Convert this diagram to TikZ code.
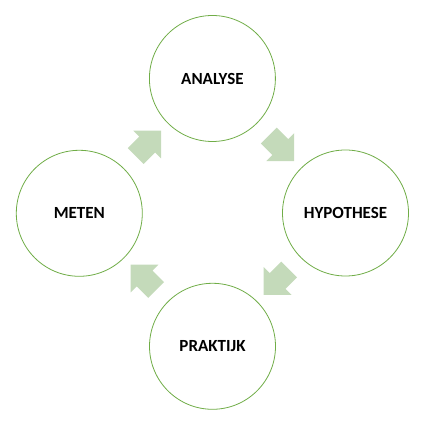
\documentclass[tikz,border=0pt]{standalone}
\usepackage{fontspec}
\setmainfont{Carlito}
\usetikzlibrary{shapes.arrows,calc}
\definecolor{ringgreen}{RGB}{112,173,71}
\definecolor{arrowgreen}{RGB}{196,218,186}
\begin{document}
\begin{tikzpicture}[x=1pt,y=1pt,
  stage/.style={circle,draw=ringgreen,line width=0.8pt,fill=white,minimum size=126pt,inner sep=0pt,
    font=\fontsize{17}{20}\selectfont\bfseries},
  cyclearrow/.style={single arrow,fill=arrowgreen,draw=none,inner xsep=0pt,inner ysep=11pt,
    minimum height=36pt,single arrow head extend=8.5pt,single arrow tip angle=90,anchor=center}]
\useasboundingbox (0,0) rectangle (423,425);
\node[stage] (analyse) at (212.4,346.5) {ANALYSE};
\node[stage] (hypothese) at (345.5,212) {HYPOTHESE};
\node[stage] (praktijk) at (212.5,78.7) {PRAKTIJK};
\node[stage] (meten) at (79.3,211.7) {METEN};
\node[cyclearrow,rotate=45] (a1) at ($(meten)!0.5!(analyse)+(225:2)$) {};
\node[cyclearrow,rotate=-45] (a2) at ($(analyse)!0.5!(hypothese)+(135:2)$) {};
\node[cyclearrow,rotate=-135] (a3) at ($(hypothese)!0.5!(praktijk)+(45:2)$) {};
\node[cyclearrow,rotate=135] (a4) at ($(praktijk)!0.5!(meten)+(-45:2)$) {};
\end{tikzpicture}
\end{document}
